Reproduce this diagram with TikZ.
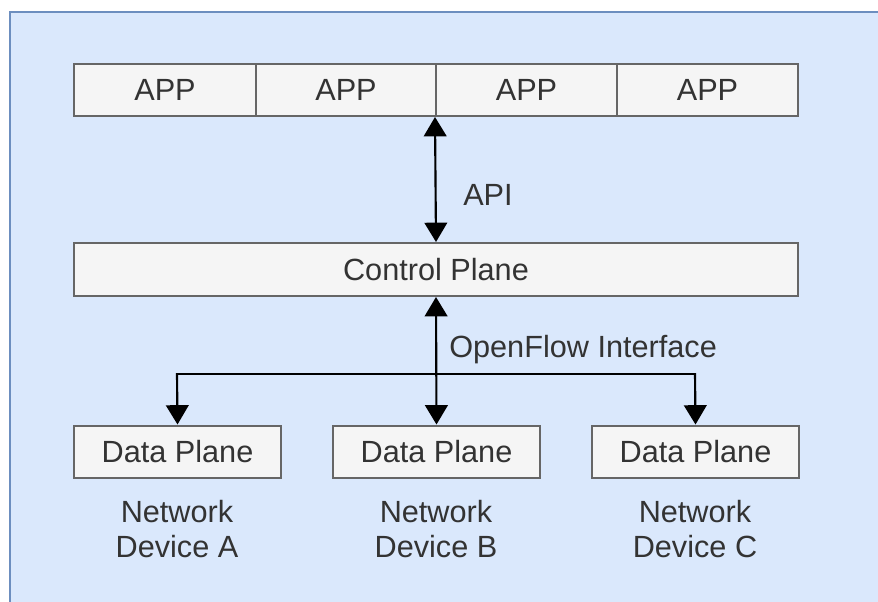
\documentclass[tikz,border=0pt]{standalone}
\usepackage{fontspec}
\setmainfont{Liberation Sans}
\usetikzlibrary{arrows.meta}
\definecolor{bgblue}{HTML}{DAE8FC}
\definecolor{bgline}{HTML}{6C8EBF}
\definecolor{boxfill}{HTML}{F5F5F5}
\definecolor{boxline}{HTML}{666666}
\definecolor{txt}{HTML}{333333}
\begin{document}
\begin{tikzpicture}[x=0.75pt,y=-0.75pt,
  font=\fontsize{23}{26.25}\selectfont,
  box/.style={draw=boxline,fill=boxfill,line width=1.5pt,inner sep=0pt,text=txt},
  lbl/.style={text=txt,inner sep=0pt},
  conn/.style={line width=1.6pt,{Triangle[length=14.5pt,width=17pt]}-{Triangle[length=14.5pt,width=17pt]}},
  down/.style={line width=1.6pt,-{Triangle[length=14.5pt,width=17pt]}}]
\useasboundingbox (0,0) rectangle (878,601);
\fill[white] (0,0) rectangle (878,601);
\draw[fill=bgblue,draw=bgline,line width=1.5pt] (10,12) rectangle (890,615);
% APP row
\node[box,minimum width=182*0.75pt,minimum height=52*0.75pt] (app1) at (165,90) {APP};
\node[box,minimum width=180*0.75pt,minimum height=52*0.75pt] (app2) at (346,90) {APP};
\node[box,minimum width=181*0.75pt,minimum height=52*0.75pt] (app3) at (526.5,90) {APP};
\node[box,minimum width=181*0.75pt,minimum height=52*0.75pt] (app4) at (707.5,90) {APP};
% control plane
\node[box,minimum width=724*0.75pt,minimum height=53*0.75pt] (ctrl) at (436,269.5) {Control Plane};
% data planes
\node[box,minimum width=207*0.75pt,minimum height=52*0.75pt] (dpa) at (177.5,451.5) {Data Plane};
\node[box,minimum width=207*0.75pt,minimum height=52*0.75pt] (dpb) at (436.5,451.5) {Data Plane};
\node[box,minimum width=207*0.75pt,minimum height=52*0.75pt] (dpc) at (695.5,451.5) {Data Plane};
% device labels
\node[lbl,align=center] (nda) at (177,529) {Network\\Device A};
\node[lbl,align=center] (ndb) at (436,529) {Network\\Device B};
\node[lbl,align=center] (ndc) at (695,529) {Network\\Device C};
% API
\coordinate (apitop) at (app3.south west);
\draw[conn] (apitop) -- (ctrl.north);
\node[lbl,anchor=west] (api) at (463,195) {API};
% OpenFlow
\draw[conn] (ctrl.south) -- (dpb.north);
\coordinate (hl) at (177,374);
\coordinate (hr) at (695,374);
\draw[line width=1.6pt] (hl) -- (hr);
\draw[down] ([yshift=0.6pt]hl) -- (dpa.north);
\draw[down] ([yshift=0.6pt]hr) -- (dpc.north);
\node[lbl,anchor=west] (ofi) at (449,350) {OpenFlow Interface};
\end{tikzpicture}
\end{document}
